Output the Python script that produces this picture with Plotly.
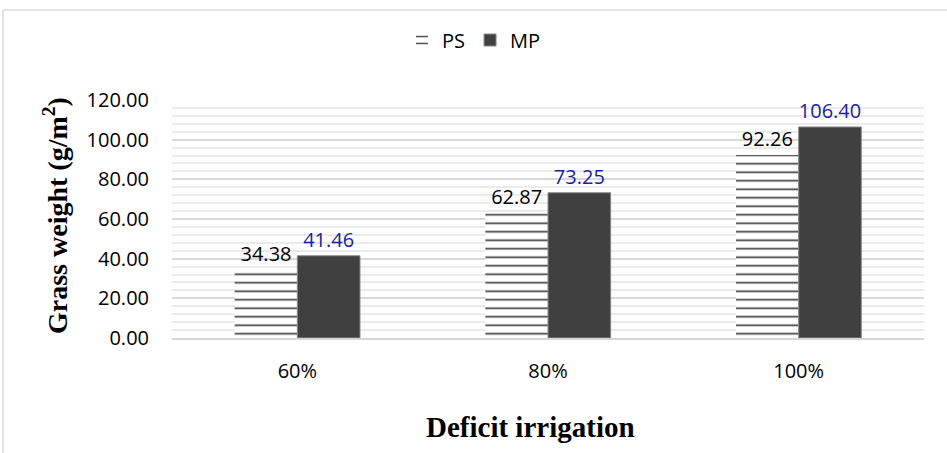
import plotly.graph_objects as go

categories = ["60%", "80%", "100%"]
ps_values = [34.38, 62.87, 92.26]
mp_values = [41.46, 73.25, 106.40]
y_ticks = [0, 20, 40, 60, 80, 100, 120]
y_tick_text = ["0.00", "20.00", "40.00", "60.00", "80.00", "100.00", "120.00"]

FONT = "Open Sans"
FS = 20
W, H = 947, 453
L, R, T, B = 172, 23, 100, 115
pw, ph = W - L - R, H - T - B

def px(x):
    return (x - L) / pw

def py(y):
    return (H - B - y) / ph

fig = go.Figure()
fig.add_trace(go.Bar(
    name="PS", x=categories, y=ps_values,
    marker=dict(color="white",
                pattern=dict(shape="-", fgcolor="#404040", bgcolor="white",
                             size=8.5, solidity=0.2, fillmode="replace"),
                line=dict(width=0)),
    texttemplate="%{y:.2f}", textposition="outside",
    textfont=dict(family=FONT, size=FS, color="#000000"),
    cliponaxis=False,
))
fig.add_trace(go.Bar(
    name="MP", x=categories, y=mp_values,
    marker=dict(color="#404040", line=dict(color="#8a8a8a", width=1)),
    texttemplate="%{y:.2f}", textposition="outside",
    textfont=dict(family=FONT, size=FS, color="#1c1ca0"),
    cliponaxis=False,
))

fig.update_layout(
    width=W, height=H,
    margin=dict(l=L, r=R, t=T, b=B),
    paper_bgcolor="white", plot_bgcolor="white",
    barmode="group", bargap=0.5, bargroupgap=0,
    font=dict(family=FONT, size=FS, color="#000000"),
    showlegend=True,
    legend=dict(orientation="h", x=px(474), y=py(40), xanchor="center", yanchor="middle",
                font=dict(family=FONT, size=FS), itemwidth=30, traceorder="normal",
                bgcolor="rgba(0,0,0,0)"),
    xaxis=dict(showgrid=False, showline=True, linecolor="#d6d6d6", linewidth=2,
               ticks="", ticklabelstandoff=14,
               tickfont=dict(family=FONT, size=FS)),
    yaxis=dict(range=[0, 120], tickvals=y_ticks, ticktext=y_tick_text,
               showgrid=True, gridcolor="#d9d9d9", gridwidth=1.5,
               zeroline=False, showline=False, ticks="",
               ticklabelstandoff=22,
               tickfont=dict(family=FONT, size=FS),
               minor=dict(dtick=4, showgrid=True, gridcolor="#ebebeb", gridwidth=1.5)),
    annotations=[
        dict(text="<b>Grass weight (g/m<sup>2</sup>)</b>", xref="paper", yref="paper",
             x=px(55), y=py(216), textangle=-90, showarrow=False,
             xanchor="center", yanchor="middle",
             font=dict(family="Liberation Serif", size=28, color="#000000")),
        dict(text="<b>Deficit irrigation</b>", xref="paper", yref="paper",
             x=px(530), y=py(427), showarrow=False,
             xanchor="center", yanchor="middle",
             font=dict(family="Liberation Serif", size=29, color="#000000")),
    ],
    shapes=[
        dict(type="line", xref="paper", yref="paper", x0=px(3), x1=px(947), y0=py(10), y1=py(10),
             line=dict(color="#d9d9d9", width=1.5)),
        dict(type="line", xref="paper", yref="paper", x0=px(3), x1=px(3), y0=py(10), y1=py(453),
             line=dict(color="#d9d9d9", width=1.5)),
    ],
)

fig.write_html("out.html")
